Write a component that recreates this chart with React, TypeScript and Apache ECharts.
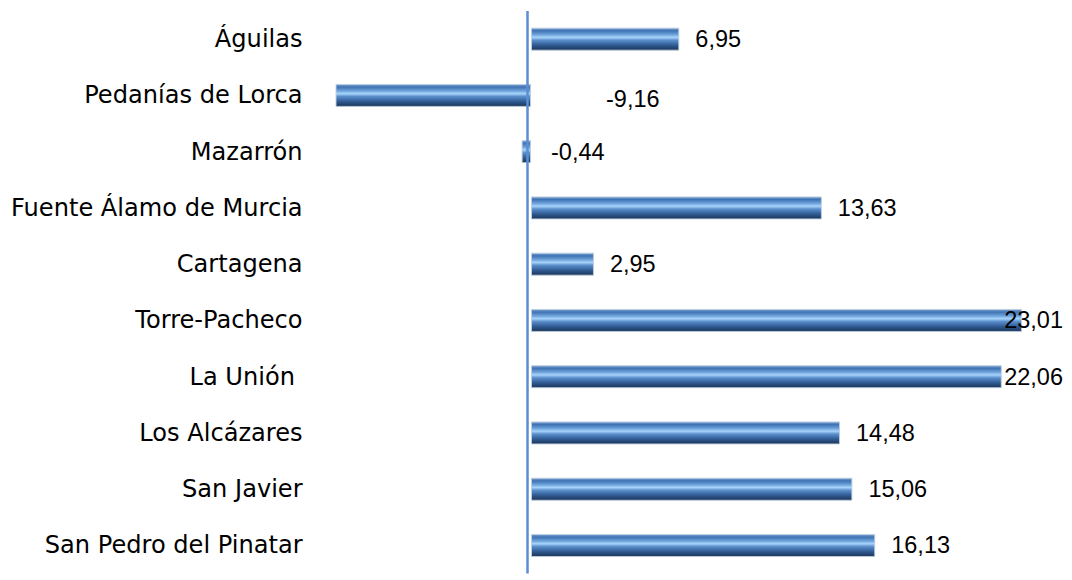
import React, { useEffect, useRef } from "react";
import * as echarts from "echarts";

const categories = [
  "Águilas",
  "Pedanías de Lorca",
  "Mazarrón",
  "Fuente Álamo de Murcia",
  "Cartagena",
  "Torre-Pacheco",
  "La Unión ",
  "Los Alcázares",
  "San Javier",
  "San Pedro del Pinatar",
];

const values = [6.95, -9.16, -0.44, 13.63, 2.95, 23.01, 22.06, 14.48, 15.06, 16.13];

// label styling tweaks (not data)
const labelDistanceFor = (v: number) => (v < -5 ? 75 : v < 0 ? 20 : 16);
const labelDyFor = (v: number) => (v < -5 ? 4 : 0);

const W = 1072;
const H = 580;

export default function App() {
  const ref = useRef<HTMLDivElement>(null);

  useEffect(() => {
    if (!ref.current) return;
    const chart = echarts.init(ref.current, null, { renderer: "svg" });

    const barGradient = new echarts.graphic.LinearGradient(0, 0, 0, 1, [
      { offset: 0, color: "#7ea5d8" },
      { offset: 0.12, color: "#3f72b2" },
      { offset: 0.3, color: "#6fa4dc" },
      { offset: 0.42, color: "#a8d4fb" },
      { offset: 0.55, color: "#5b8fcc" },
      { offset: 0.78, color: "#2f5a92" },
      { offset: 1, color: "#1b3457" },
    ]);

    const limitRight = W - 9;

    chart.setOption({
      animation: false,
      backgroundColor: "#ffffff",
      grid: { left: 317.6, right: 7.5, top: 11, bottom: 6.4, containLabel: false },
      xAxis: {
        type: "value",
        min: -10,
        max: 25,
        axisLine: { show: false },
        axisTick: { show: false },
        axisLabel: { show: false },
        splitLine: { show: false },
      },
      yAxis: {
        type: "category",
        data: categories,
        inverse: true,
        axisLine: { show: false, onZero: false },
        axisTick: { show: false },
        axisLabel: {
          margin: 15,
          color: "#000000",
          fontFamily: "DejaVu Sans",
          fontSize: 24.1,
        },
        splitLine: { show: false },
      },
      series: [
        {
          type: "bar",
          barWidth: 23,
          data: values.map((v) => ({
            value: v,
            label: { distance: labelDistanceFor(v) },
          })),
          itemStyle: {
            color: barGradient,
            borderColor: "rgba(190,205,222,0.9)",
            borderWidth: 1,
          },
          label: {
            show: true,
            position: "right",
            color: "#000000",
            fontFamily: "Liberation Sans, Arial, sans-serif",
            fontSize: 23.5,
            formatter: (p: any) => Number(p.value).toFixed(2).replace(".", ","),
          },
          labelLayout: (params: any) => {
            const r = params.labelRect;
            const over = r.x + r.width - limitRight;
            const dy = labelDyFor(values[params.dataIndex]);
            return { dx: over > 0 ? -over : 0, dy };
          },
          markLine: {
            silent: true,
            symbol: "none",
            label: { show: false },
            lineStyle: { color: "#5b8ed2", width: 2.5, type: "solid" },
            data: [{ xAxis: -0.19 }],
          },
        },
      ],
    });

    return () => chart.dispose();
  }, []);

  return (
    <div
      ref={ref}
      style={{ position: "absolute", left: 0, top: 0, width: W, height: H }}
    />
  );
}
